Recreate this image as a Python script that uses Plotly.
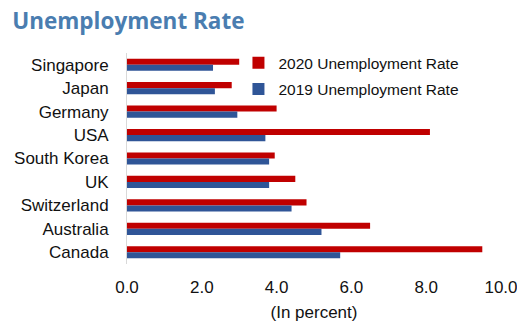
import plotly.graph_objects as go

countries = ["Singapore", "Japan", "Germany", "USA", "South Korea", "UK",
             "Switzerland", "Australia", "Canada"]
rate_2020 = [3.0, 2.8, 4.0, 8.1, 3.95, 4.5, 4.8, 6.5, 9.5]
rate_2019 = [2.3, 2.35, 2.95, 3.7, 3.8, 3.8, 4.4, 5.2, 5.7]
x_ticks = [0, 2, 4, 6, 8, 10]

fig = go.Figure()
fig.add_trace(go.Bar(y=countries, x=rate_2020, orientation="h",
                     name="2020 Unemployment Rate", legendgroup="a",
                     marker=dict(color="#C00000", line=dict(width=0))))
fig.add_trace(go.Bar(y=countries, x=rate_2019, orientation="h",
                     name="2019 Unemployment Rate", legendgroup="b",
                     marker=dict(color="#2F5597", line=dict(width=0))))

fig.update_layout(
    width=517, height=322,
    margin=dict(l=127, r=16, t=53, b=58, autoexpand=False),
    paper_bgcolor="white", plot_bgcolor="white",
    barmode="group", bargap=0.48, bargroupgap=0,
    font=dict(family="Liberation Sans, Arial, sans-serif", size=17, color="#111111"),
    title=dict(text="<b>Unemployment Rate</b>", x=0.0236, xanchor="left",
               y=0.935, yanchor="middle",
               font=dict(family="Open Sans, sans-serif", size=22.5, color="#4A7DB0")),
    legend=dict(x=0.298, y=1.032, xanchor="left", yanchor="top",
                font=dict(size=15.5), bgcolor="rgba(0,0,0,0)",
                tracegroupgap=3, itemwidth=30),
    showlegend=True,
)
fig.update_yaxes(autorange="reversed", showline=True, linecolor="#D9D9D9",
                 linewidth=1, showgrid=False, ticks="", ticklabelstandoff=14,
                 zeroline=False, automargin=False)
fig.update_xaxes(range=[0, 10], tickvals=x_ticks, tickformat=".1f",
                 showgrid=False, zeroline=False, showline=False, ticks="",
                 ticklabelstandoff=11, automargin=False,
                 ticklabeloverflow="allow",
                 title=dict(text="(In percent)", font=dict(size=17), standoff=10))

fig.write_html("out.html", config={"displayModeBar": False},
               post_script="document.body.style.margin='0';document.body.style.overflow='hidden';")
